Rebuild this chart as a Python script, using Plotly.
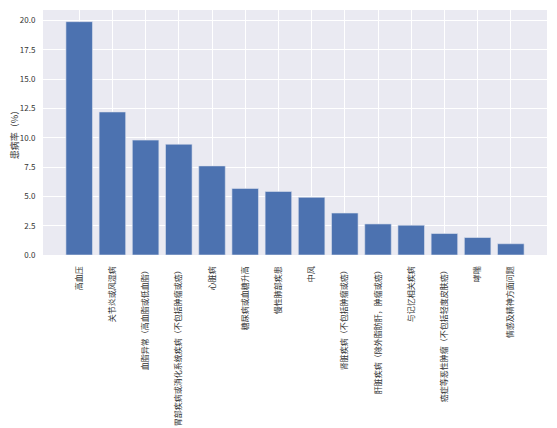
import plotly.graph_objects as go

diseases = [
    "高血压",
    "关节炎或风湿病",
    "血脂异常（高血脂或低血脂）",
    "胃部疾病或消化系统疾病（不包括肿瘤或癌）",
    "心脏病",
    "糖尿病或血糖升高",
    "慢性肺部疾患",
    "中风",
    "肾脏疾病（不包括肿瘤或癌）",
    "肝脏疾病（除外脂肪肝，肿瘤或癌）",
    "与记忆相关疾病",
    "癌症等恶性肿瘤（不包括轻度皮肤癌）",
    "哮喘",
    "情感及精神方面问题",
]

rates = [19.9, 12.2, 9.8, 9.45, 7.6, 5.68, 5.42, 4.92, 3.58, 2.65, 2.54, 1.83, 1.49, 0.96]

y_ticks = [0, 2.5, 5, 7.5, 10, 12.5, 15, 17.5, 20]

fig = go.Figure(
    go.Bar(
        x=list(range(len(diseases))),
        y=rates,
        width=0.8,
        marker=dict(color="#4C72B0", line=dict(color="#DDE3EF", width=0.6)),
    )
)

# the page body adds 8px, so the figure is a bit smaller than the window
fig.update_layout(
    width=549,
    height=420,
    margin=dict(l=35, r=10, t=2, b=173),
    paper_bgcolor="white",
    plot_bgcolor="#EAEAF2",
    font=dict(family="Noto Sans CJK SC", size=8, color="#333333"),
    showlegend=False,
    bargap=0.2,
)

fig.update_xaxes(
    tickmode="array",
    tickvals=list(range(len(diseases))),
    ticktext=diseases,
    tickangle=-90,
    range=[-1.09, len(diseases) - 1 + 1.09],
    showgrid=True,
    gridcolor="white",
    gridwidth=1,
    zeroline=False,
    ticks="outside",
    ticklen=7,
    tickcolor="rgba(0,0,0,0)",
    tickfont=dict(size=8),
    automargin=False,
)

fig.update_yaxes(
    tickmode="array",
    tickvals=y_ticks,
    tickformat=".1f",
    range=[0, max(rates) * 1.05],
    showgrid=True,
    gridcolor="white",
    gridwidth=1,
    zeroline=False,
    ticks="outside",
    ticklen=5,
    tickcolor="rgba(0,0,0,0)",
    tickfont=dict(size=8),
    title=dict(text="患病率（%）", font=dict(size=9), standoff=4),
    automargin=False,
)

fig.write_html("out.html")
